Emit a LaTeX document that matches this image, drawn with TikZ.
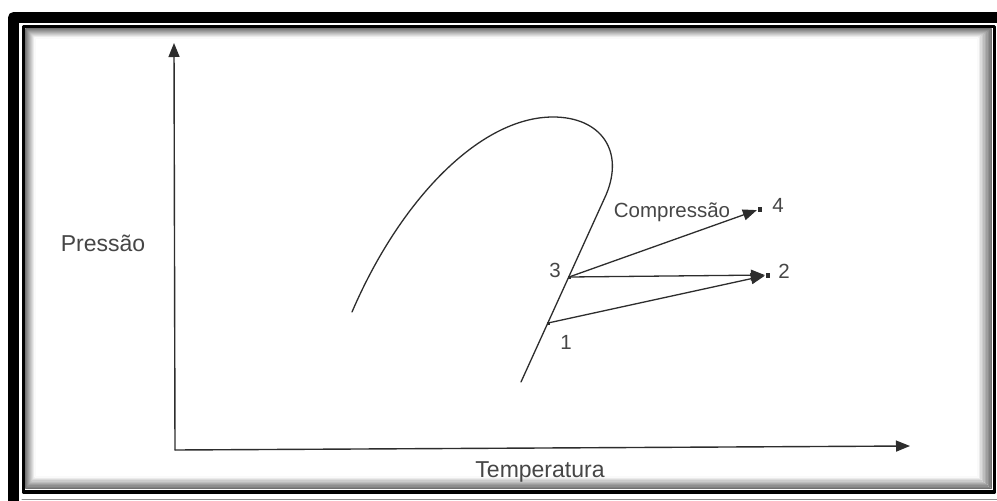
\documentclass[tikz,border=0pt]{standalone}
\usepackage{fontspec}
\setmainfont{Liberation Sans}
\usepackage{tikz}
\usetikzlibrary{arrows.meta, positioning}
\definecolor{inkgray}{RGB}{45, 45, 45}
\definecolor{textgray}{RGB}{70, 70, 70}

\begin{document}
\begin{tikzpicture}[x=1pt, y=-1pt, line join=round, line cap=round, >={Triangle[length=14pt, width=11pt]},
    lbl/.style={text=textgray, inner sep=0pt, font=\fontsize{23}{27}\selectfont},
    smalllbl/.style={lbl, font=\fontsize{20.5}{24}\selectfont},
    ptdot/.style={fill=inkgray, inner sep=0pt, minimum size=3pt},
    ptbox/.style={fill=inkgray, inner sep=0pt, minimum width=4pt, minimum height=5pt}]
    % Área da figura: 997 x 501
    \useasboundingbox (0,0) rectangle (997,501);
    \clip (0,0) rectangle (997,501);
    \fill[white] (0,0) rectangle (997,501);

    % Moldura dupla com sombra interna
    \draw[line width=11pt] (13.5,17.5) rectangle (1010,520);
    \draw[line width=1pt, black!45] (22,499) -- (997,499);
    \foreach \i [evaluate=\i as \g using int(62-6*\i)] in {1,...,10}
        \draw[line width=1.3pt, black!\g] (25+\i,28+\i) rectangle (993-1.5*\i,490-1.3*\i);
    \draw[line width=3.5pt] (23.5,26.5) rectangle (994.5,492);

    % Eixos Pressão x Temperatura
    \coordinate (O) at (175,450);
    \coordinate (yend) at (174,43);
    \coordinate (xend) at (910,446);
    \draw[->, line width=1.4pt, inkgray] (O) -- (yend);
    \draw[->, line width=1.4pt, inkgray] (O) -- (xend);
    \node[lbl] (pressao) at (103,243) {Pressão};
    \node[lbl] (temperatura) at (540,472) {Temperatura};

    % Curva de saturação
    \draw[line width=1.3pt, inkgray] (352,312) .. controls (400,200) and (480,117) .. (553,117)
        .. controls (600,117) and (625,150) .. (606,195) -- (521,382);

    % Pontos do ciclo
    \node[ptdot] (p3) at (569,277) {};
    \node[ptdot] (p1) at (548,323) {};
    \node[ptbox] (p4) at (760,209) {};
    \node[ptbox] (p2) at (768,275) {};
    \node[smalllbl] (n3) at (555,270) {3};
    \node[smalllbl] (n1) at (566,342) {1};
    \node[smalllbl] (n4) at (778,205) {4};
    \node[smalllbl] (n2) at (784,271) {2};

    % Processos
    \draw[->, line width=1.3pt, inkgray, shorten >=1pt] (p3) -- (p4);
    \draw[->, line width=1.3pt, inkgray, shorten >=1pt] (p3) -- (p2);
    \draw[->, line width=1.3pt, inkgray, shorten >=1pt] (p1) -- (p2);
    \node[smalllbl] (compressao) at (672,212) {Compressão};
\end{tikzpicture}
\end{document}
